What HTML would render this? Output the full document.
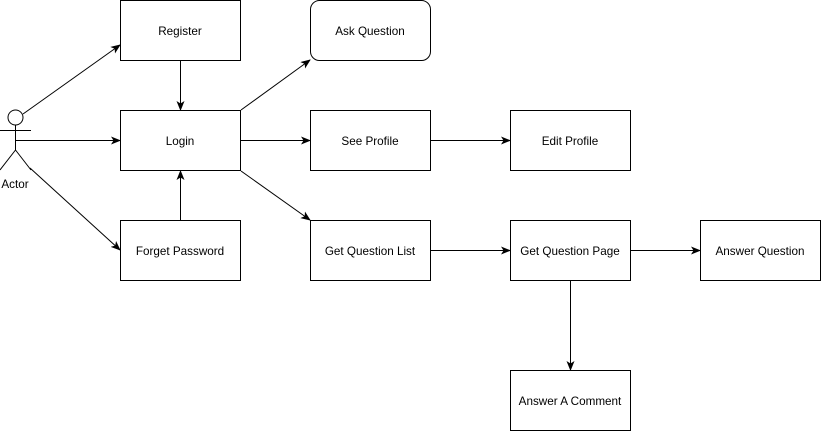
<!DOCTYPE html>
<html><head><meta charset="utf-8"><style>body{margin:0;background:#fff}svg{display:block}text{font-family:"Liberation Sans",sans-serif;font-size:11.7px;fill:#000}</style></head>
<body>
<svg width="821" height="431" viewBox="0 0 821 431">
<defs><marker id="a" markerWidth="10" markerHeight="8" refX="9" refY="4" orient="auto" markerUnits="userSpaceOnUse"><path d="M0,0 L10,4 L0,8 L2.5,4 Z" fill="#000"/></marker></defs>
<g fill="#fff" stroke="#000" stroke-width="1">
<rect x="120.5" y="0.5" width="120" height="60"/>
<rect x="120.5" y="110.5" width="120" height="60"/>
<rect x="120.5" y="220.5" width="120" height="60"/>
<rect x="310.5" y="0.5" width="120" height="60" rx="9"/>
<rect x="310.5" y="110.5" width="120" height="60"/>
<rect x="510.5" y="110.5" width="120" height="60"/>
<rect x="310.5" y="220.5" width="120" height="60"/>
<rect x="510.5" y="220.5" width="120" height="60"/>
<rect x="700.5" y="220.5" width="120" height="60"/>
<rect x="510.5" y="370.5" width="120" height="60"/>
<circle cx="15.5" cy="117.5" r="7.5"/>
</g>
<g stroke="#000" fill="none">
<path d="M15.5 125V150M0 130.5H31M15.5 150L0 170M15.5 150L31 170"/>
<g marker-end="url(#a)">
<line x1="23" y1="114" x2="120" y2="45"/>
<line x1="15" y1="140.5" x2="120" y2="140.5"/>
<line x1="30" y1="168" x2="120" y2="250"/>
<line x1="180.5" y1="61" x2="180.5" y2="110"/>
<line x1="180.5" y1="220" x2="180.5" y2="171"/>
<line x1="241" y1="110" x2="310" y2="60"/>
<line x1="241" y1="140.5" x2="310" y2="140.5"/>
<line x1="241" y1="171" x2="310" y2="220"/>
<line x1="431" y1="140.5" x2="510" y2="140.5"/>
<line x1="431" y1="250.5" x2="510" y2="250.5"/>
<line x1="631" y1="250.5" x2="700" y2="250.5"/>
<line x1="570.5" y1="281" x2="570.5" y2="370"/>
</g></g>
<g text-anchor="middle">
<text x="180" y="35">Register</text>
<text x="180" y="145">Login</text>
<text x="180" y="255">Forget Password</text>
<text x="370" y="35">Ask Question</text>
<text x="370" y="145">See Profile</text>
<text x="570" y="145">Edit Profile</text>
<text x="370" y="255">Get Question List</text>
<text x="570" y="255">Get Question Page</text>
<text x="760" y="255">Answer Question</text>
<text x="570" y="405">Answer A Comment</text>
<text x="15" y="188">Actor</text>
</g>
</svg>
</body></html>
